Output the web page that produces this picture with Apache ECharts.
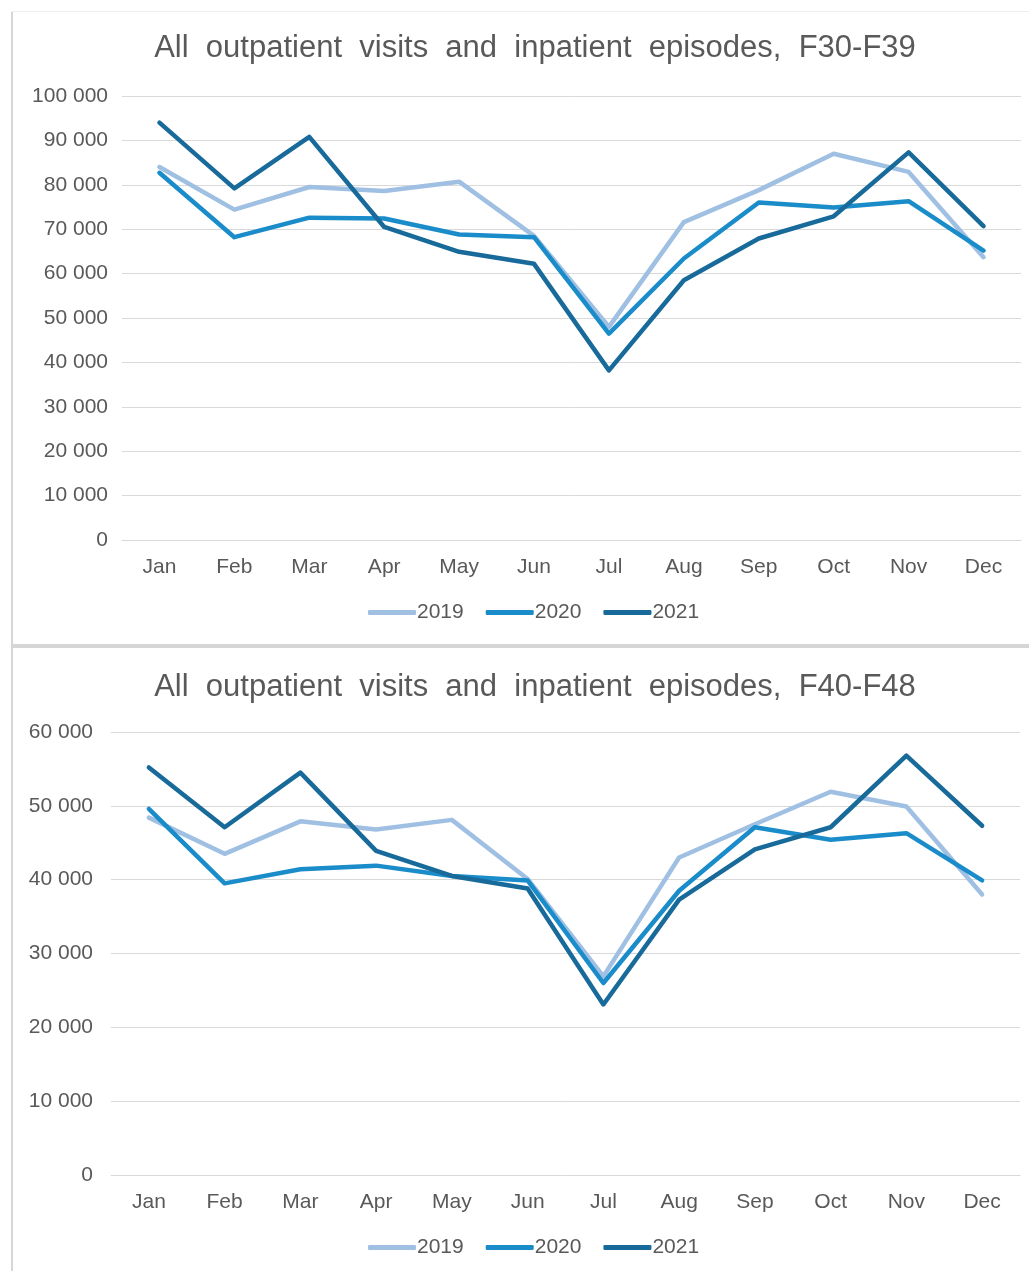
<!DOCTYPE html>
<html>
<head>
<meta charset="utf-8">
<script src="https://cdn.jsdelivr.net/npm/echarts@6/dist/echarts.min.js"></script>
<style>
html,body{margin:0;padding:0;background:#fff;}
#c{width:1029px;height:1271px;}
</style>
</head>
<body>
<div id="c"></div>
<script>
const months = ['Jan','Feb','Mar','Apr','May','Jun','Jul','Aug','Sep','Oct','Nov','Dec'];
const seriesNames = ['2019','2020','2021'];

// Chart 1: F30-F39
const titleTop = 'All  outpatient  visits  and  inpatient  episodes,  F30-F39';
const top2019 = [84000, 74400, 79500, 78600, 80700, 68500, 48000, 71600, 78800, 87000, 82900, 63700];
const top2020 = [82700, 68200, 72600, 72400, 68800, 68200, 46500, 63400, 76000, 74900, 76300, 65200];
const top2021 = [94000, 79200, 90800, 70500, 64900, 62200, 38200, 58500, 67900, 72900, 87300, 70700];

// Chart 2: F40-F48
const titleBottom = 'All  outpatient  visits  and  inpatient  episodes,  F40-F48';
const bot2019 = [48400, 43500, 47900, 46800, 48100, 40100, 26900, 43000, 47500, 51900, 49900, 38000];
const bot2020 = [49600, 39500, 41400, 41900, 40500, 39900, 26000, 38500, 47100, 45400, 46300, 39900];
const bot2021 = [55200, 47100, 54500, 43900, 40500, 38800, 23100, 37300, 44100, 47100, 56800, 47300];

const colors = ['#9fc0e2', '#1a8cca', '#176a9a'];
const FONT = 'Liberation Sans, Arial, sans-serif';
const TXT = '#595959';
const GRID = '#d9d9d9';

function fmt(v){ return String(v).replace(/\B(?=(\d{3})+(?!\d))/g, ' '); }

const chart = echarts.init(document.getElementById('c'), null, {renderer:'canvas'});

function xAxis(gi){
  return {
    type:'category', gridIndex:gi, data:months, boundaryGap:true,
    axisLine:{show:true, lineStyle:{color:GRID, width:1}},
    axisTick:{show:false},
    axisLabel:{color:TXT, fontSize:21, fontFamily:FONT, margin:17}
  };
}
function yAxis(gi, max, margin){
  return {
    type:'value', gridIndex:gi, min:0, max:max, interval:10000,
    axisLine:{show:false}, axisTick:{show:false},
    splitLine:{lineStyle:{color:GRID, width:1}},
    axisLabel:{color:TXT, fontSize:21, fontFamily:FONT, margin:margin, formatter:fmt}
  };
}
function line(name, data, gi, ci){
  return {
    type:'line', name:name, data:data, xAxisIndex:gi, yAxisIndex:gi,
    symbol:'none', smooth:false,
    lineStyle:{color:colors[ci], width:4.5, cap:'round', join:'round'},
    itemStyle:{color:colors[ci]},
    emphasis:{disabled:true}, animation:false
  };
}
function legend(top){
  return {
    data:seriesNames, left:363, top:top, itemWidth:48, itemHeight:5, itemGap:22,
    icon:'roundRect',
    textStyle:{color:TXT, fontSize:21, fontFamily:FONT, padding:[0,0,0,-4]},
    selectedMode:false
  };
}

chart.setOption({
  animation:false,
  color:colors,
  title:[
    {text:titleTop, left:530, top:28, textAlign:'center',
     textStyle:{color:TXT, fontSize:31, fontWeight:'normal', fontFamily:FONT}},
    {text:titleBottom, left:530, top:667, textAlign:'center',
     textStyle:{color:TXT, fontSize:31, fontWeight:'normal', fontFamily:FONT}}
  ],
  legend:[legend(597), legend(1232)],
  grid:[
    {left:122, right:8, top:96, height:444, containLabel:false},
    {left:111, right:9, top:732, height:443, containLabel:false}
  ],
  xAxis:[xAxis(0), xAxis(1)],
  yAxis:[yAxis(0, 100000, 14), yAxis(1, 60000, 18)],
  series:[
    line('2019', top2019, 0, 0),
    line('2020', top2020, 0, 1),
    line('2021', top2021, 0, 2),
    line('2019', bot2019, 1, 0),
    line('2020', bot2020, 1, 1),
    line('2021', bot2021, 1, 2)
  ],
  graphic:[
    {type:'rect', left:11, top:11, shape:{width:2, height:1260}, style:{fill:'#d6d6d6'}, silent:true},
    {type:'rect', left:11, top:11, shape:{width:1018, height:1}, style:{fill:'#eeeeee'}, silent:true},
    {type:'rect', left:11, top:644, shape:{width:1018, height:4}, style:{fill:'#d6d6d6'}, silent:true}
  ]
});
</script>
</body>
</html>
